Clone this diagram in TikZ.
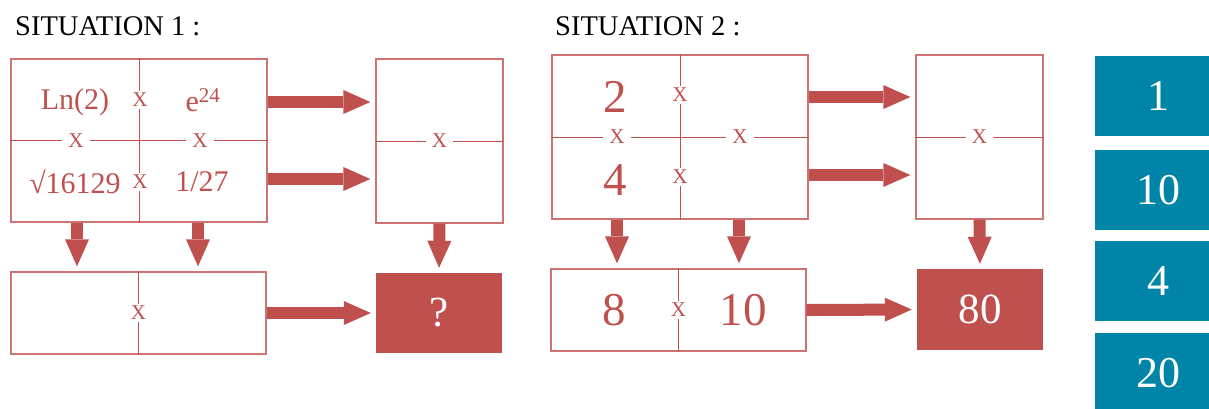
\documentclass[tikz,border=0pt]{standalone}
\usepackage{fontspec}
\setmainfont{Liberation Serif}
\usetikzlibrary{arrows,arrows.meta,calc,positioning}
\definecolor{brick}{RGB}{192,80,77}
\definecolor{tileblue}{RGB}{0,132,168}

\begin{document}
\begin{tikzpicture}[x=1pt,y=-1pt,
	box/.style={draw=brick!80,line width=1.3pt,inner sep=0pt},
	rule/.style={brick,line width=1pt},
	full/.style={fill=brick,inner sep=0pt,text=white,font=\fontsize{43}{43}\selectfont},
	tile/.style={fill=tileblue,inner sep=0pt,minimum width=126pt,minimum height=80pt,text=white,font=\fontsize{44}{44}\selectfont},
	times/.style={fill=white,text=brick,inner xsep=6pt,inner ysep=2pt,font=\fontsize{21}{21}\selectfont},
	val/.style={text=brick,inner sep=0pt,font=\fontsize{30}{30}\selectfont},
	big/.style={text=brick,inner sep=0pt,font=\fontsize{47}{47}\selectfont},
	fat/.style={brick,line width=12pt,-{Triangle[length=27pt,width=24pt,line width=0pt]},shorten >=5pt},
	title/.style={anchor=base west,inner sep=0pt,font=\fontsize{28.5}{28.5}\selectfont}]
	
	\useasboundingbox (0,0) rectangle (1209,408);
	
	% situation 1
	\node[title] (t1) at (15,35) {SITUATION 1 :};
	\node[box,minimum width=256pt,minimum height=163pt] (g1) at (139,140.5) {};
	\node[box,minimum width=127pt,minimum height=164pt] (r1) at (439.5,141) {};
	\node[box,minimum width=255pt,minimum height=82pt] (b1) at (138.5,313) {};
	\node[full,minimum width=126pt,minimum height=80pt] (q1) at (439,313) {?};
	
	\draw[rule] (g1.north) -- (g1.south);
	\draw[rule] (g1.west) -- (g1.east);
	\draw[rule] (r1.west) -- (r1.east);
	\draw[rule] (b1.north) -- (b1.south);
	
	\node[val] (ln) at (75,102) {Ln(2)};
	\node[val] (ex) at (203,100) {e\textsuperscript{24}};
	\node[val] (sq) at (75,182) {√16129};
	\node[val] (fr) at (202,182) {1/27};
	
	\node[times] (m1) at (140,100) {X};
	\node[times] (m2) at (140,182) {X};
	\node[times] (m3) at (76,141) {X};
	\node[times] (m4) at (200,141) {X};
	\node[times] (m5) at (r1.center) {X};
	\node[times] (m6) at (b1.center) {X};
	
	\draw[fat] ([yshift=38.5pt]g1.east) -- ([yshift=38.5pt]g1.east -| r1.west);
	\draw[fat] ([yshift=-38.5pt]g1.east) -- ([yshift=-38.5pt]g1.east -| r1.west);
	\draw[fat] ([xshift=-62pt]g1.south) -- ([xshift=-62pt]g1.south |- b1.north);
	\draw[fat] ([xshift=59pt]g1.south) -- ([xshift=59pt]g1.south |- b1.north);
	\draw[fat] (r1.south) -- (q1.north);
	\draw[fat] (b1.east) -- (q1.west);
	
	% situation 2
	\node[title] (t2) at (555,35) {SITUATION 2 :};
	\node[box,minimum width=256pt,minimum height=164pt] (g2) at (680,137) {};
	\node[box,minimum width=127pt,minimum height=164pt] (r2) at (979.5,137) {};
	\node[box,minimum width=255pt,minimum height=82pt] (b2) at (678.5,310) {};
	\node[full,minimum width=126pt,minimum height=81pt] (q2) at (980,309.5) {80};
	
	\draw[rule] (g2.north) -- (g2.south);
	\draw[rule] (g2.west) -- (g2.east);
	\draw[rule] (r2.west) -- (r2.east);
	\draw[rule] (b2.north) -- (b2.south);
	
	\node[big] (n2) at (615,97) {2};
	\node[big] (n4) at (615,180) {4};
	\node[big] (n8) at (614,310) {8};
	\node[big] (n10) at (743,310) {10};
	
	\node[times] (p1) at (680,95) {X};
	\node[times] (p2) at (680,177) {X};
	\node[times] (p3) at (617,137) {X};
	\node[times] (p4) at (740,137) {X};
	\node[times] (p5) at (r2.center) {X};
	\node[times] (p6) at (b2.center) {X};
	
	\draw[fat] ([yshift=40pt]g2.east) -- ([yshift=40pt]g2.east -| r2.west);
	\draw[fat] ([yshift=-38pt]g2.east) -- ([yshift=-38pt]g2.east -| r2.west);
	\draw[fat] ([xshift=-63pt]g2.south) -- ([xshift=-63pt]g2.south |- b2.north);
	\draw[fat] ([xshift=59pt]g2.south) -- ([xshift=59pt]g2.south |- b2.north);
	\draw[fat] (r2.south) -- (q2.north);
	\draw[fat] (b2.east) -- (q2.west);
	
	% answers
	\foreach \v/\y [count=\i] in {1/96,10/190,4/281,20/373}
	\node[tile] (k\i) at (1158,\y) {\v};
	
\end{tikzpicture}
\end{document}
